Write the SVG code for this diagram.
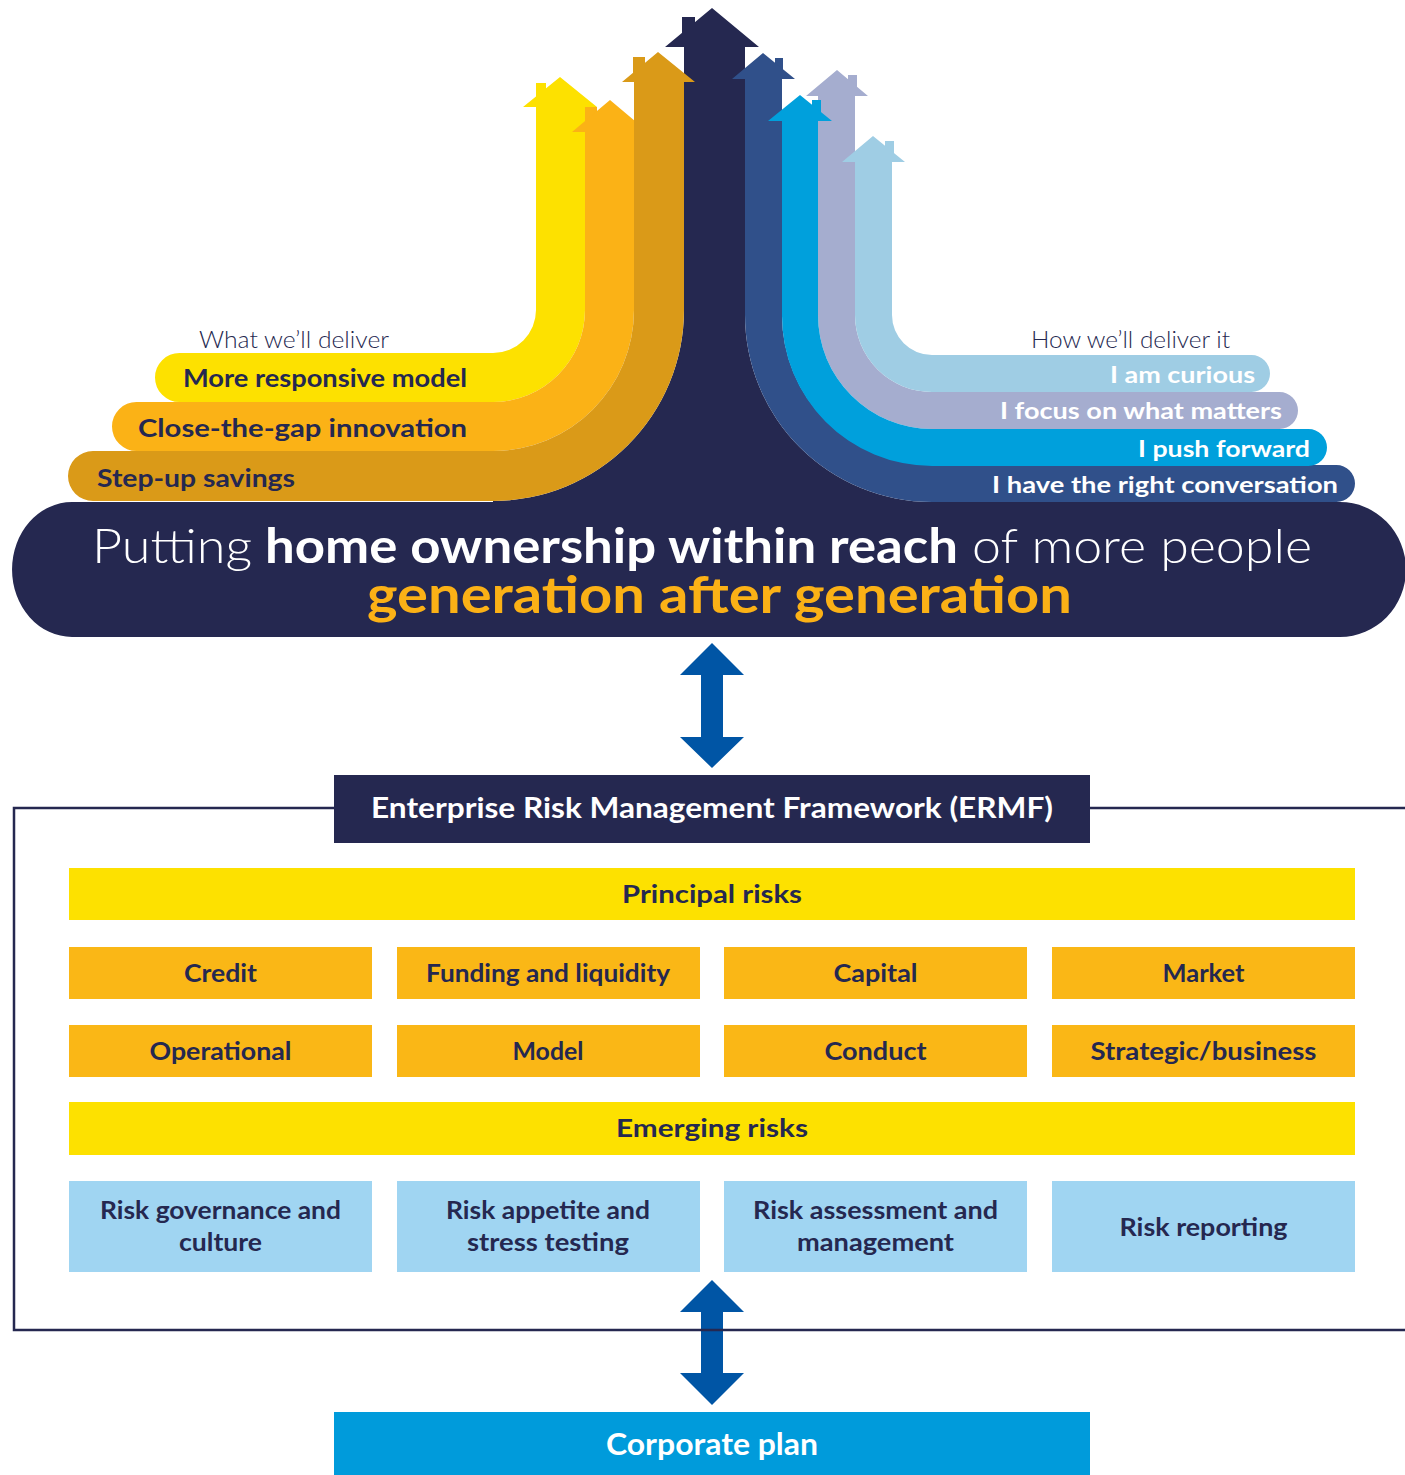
<svg xmlns="http://www.w3.org/2000/svg" width="1405" height="1475" viewBox="0 0 1405 1475">
<defs>
<style>
.t{font-family:Lato,"Open Sans","Liberation Sans",sans-serif}
.lt{font-family:Lato,"Open Sans","Liberation Sans",sans-serif;font-weight:300}
.b{font-family:Lato,"Open Sans","Liberation Sans",sans-serif;font-weight:700}
.navy{fill:#252850}
.wh{fill:#ffffff}
.lbl{font-family:Lato,"Open Sans","Liberation Sans",sans-serif;font-weight:700;fill:#252850;font-size:25px;text-anchor:middle}
.yb{fill:#FDE100}
.ob{fill:#FAB716}
.lb{fill:#A0D5F2}
.arr{fill:#0055A5}
</style>
</defs>
<rect width="1405" height="1475" fill="#ffffff"/>

<!-- central navy arrow -->
<g id="navy-arrow">
<path class="navy" d="M665,47 L712,8 L759,47 L745,47 L745,315 A187,187 0 0 0 932,502 L932,512 L493,512 L493,501 A191,191 0 0 0 684,310 L684,47 Z"/>
<rect class="navy" x="682" y="17" width="13" height="25"/>
</g>

<!-- left strips -->
<g id="strip-more-responsive-model">
<rect fill="#FDE100" x="536" y="83" width="10" height="20"/>
<path fill="#FDE100" d="M523,107 L560,77 L597,107 L585,107 L585,310 A92,92 0 0 1 493,402 L179.5,402 A24.5,24.5 0 0 1 179.5,353 L493,353 A43,43 0 0 0 536,310 L536,107 Z"/>
<text class="b navy" x="183" y="387" font-size="24" textLength="284" lengthAdjust="spacingAndGlyphs">More responsive model</text>
</g>
<g id="strip-close-the-gap">
<rect fill="#FBB216" x="585" y="107" width="12" height="20"/>
<path fill="#FBB216" d="M572,132 L610,100 L648,132 L634,132 L634,310 A141,141 0 0 1 493,451 L136.5,451 A24.5,24.5 0 0 1 136.5,402 L493,402 A92,92 0 0 0 585,310 L585,132 Z"/>
<text class="b navy" x="138" y="437" font-size="24" textLength="329" lengthAdjust="spacingAndGlyphs">Close-the-gap innovation</text>
</g>
<g id="strip-step-up-savings">
<rect fill="#DA9A18" x="633" y="57" width="12" height="20"/>
<path fill="#DA9A18" d="M622,82 L658,52 L695,82 L684,82 L684,310 A191,191 0 0 1 493,501 L93,501 A25,25 0 0 1 93,451 L493,451 A141,141 0 0 0 634,310 L634,82 Z"/>
<text class="b navy" x="97" y="487" font-size="24" textLength="198" lengthAdjust="spacingAndGlyphs">Step-up savings</text>
</g>

<!-- right strips -->
<g id="strip-focus">
<rect fill="#A5ADCF" x="848" y="75" width="9" height="18"/>
<path fill="#A5ADCF" d="M806,96 L837,70 L868,96 L855,96 L855,315 A77,77 0 0 0 932,392 L1279.5,392 A18.5,18.5 0 0 1 1279.5,429 L932,429 A114,114 0 0 1 818,315 L818,96 Z"/>
<text class="b wh" x="1000" y="419" font-size="23" textLength="282" lengthAdjust="spacingAndGlyphs">I focus on what matters</text>
</g>
<g id="strip-conversation">
<rect fill="#30508A" x="775" y="58" width="8" height="18"/>
<path fill="#30508A" d="M732,79 L763,53 L795,79 L782,79 L782,315 A150,150 0 0 0 932,465 L1336.5,465 A18.5,18.5 0 0 1 1336.5,502 L932,502 A187,187 0 0 1 745,315 L745,79 Z"/>
<text class="b wh" x="992" y="493" font-size="23" textLength="346" lengthAdjust="spacingAndGlyphs">I have the right conversation</text>
</g>
<g id="strip-push-forward">
<rect fill="#00A0DC" x="812" y="100" width="9" height="18"/>
<path fill="#00A0DC" d="M768,121 L800,95 L832,121 L818,121 L818,315 A114,114 0 0 0 932,429 L1308.5,429 A18.5,18.5 0 0 1 1308.5,466 L932,466 A150,150 0 0 1 782,315 L782,121 Z"/>
<text class="b wh" x="1138" y="457" font-size="23" textLength="172" lengthAdjust="spacingAndGlyphs">I push forward</text>
</g>
<g id="strip-curious">
<rect fill="#9FCDE4" x="885" y="141" width="9" height="18"/>
<path fill="#9FCDE4" d="M842,162 L873,136 L905,162 L892,162 L892,315 A40,40 0 0 0 932,355 L1251.5,355 A18.5,18.5 0 0 1 1251.5,392 L932,392 A77,77 0 0 1 855,315 L855,162 Z"/>
<text class="b wh" x="1110" y="383" font-size="23" textLength="145" lengthAdjust="spacingAndGlyphs">I am curious</text>
</g>

<g id="heading-left">
<text class="lt navy" x="199" y="348" font-size="24" textLength="190" lengthAdjust="spacingAndGlyphs">What we’ll deliver</text>
</g>
<g id="heading-right">
<text class="lt navy" x="1031" y="348" font-size="24" textLength="199" lengthAdjust="spacingAndGlyphs">How we’ll deliver it</text>
</g>

<!-- banner -->
<g id="banner">
<path class="navy" d="M72,502 L1340,502 A66,67.5 0 0 1 1340,637 L72,637 A60,67.5 0 0 1 72,502 Z"/>
<text class="lt wh" x="92" y="563" font-size="48" textLength="160" lengthAdjust="spacingAndGlyphs">Putting</text>
<text class="b wh" x="265" y="563" font-size="48" textLength="693" lengthAdjust="spacingAndGlyphs">home ownership within reach</text>
<text class="lt wh" x="972" y="563" font-size="48" textLength="340" lengthAdjust="spacingAndGlyphs">of more people</text>
<text class="b" fill="#FBB116" x="367" y="613" font-size="52" textLength="705" lengthAdjust="spacingAndGlyphs">generation after generation</text>
</g>

<!-- connectors -->
<g id="connectors">
<polygon class="arr" points="712,643 744,675 723,675 723,737 744,737 712,768 680,737 701,737 701,675 680,675"/>
<polygon class="arr" points="712,1280 744,1312 723,1312 723,1373 744,1373 712,1405 680,1373 701,1373 701,1312 680,1312"/>
</g>

<!-- ERMF frame -->
<g id="ermf-frame">
<path d="M334,808 L14,808 L14,1330 L1410,1330 M1090,808 L1410,808" fill="none" stroke="#252850" stroke-width="2.5"/>
</g>
<g id="ermf-title">
<rect class="navy" x="334" y="775" width="756" height="68"/>
<text class="b wh" x="712" y="818" font-size="28" text-anchor="middle" textLength="682" lengthAdjust="spacingAndGlyphs">Enterprise Risk Management Framework (ERMF)</text>
</g>

<g id="principal-risks">
<rect class="yb" x="69" y="868" width="1286" height="52"/>
<text class="lbl" x="712" y="903" font-size="26" textLength="180" lengthAdjust="spacingAndGlyphs">Principal risks</text>
</g>

<g id="credit"><rect class="ob" x="69" y="947" width="303" height="52"/><text class="lbl" x="220.5" y="982" textLength="73" lengthAdjust="spacingAndGlyphs">Credit</text></g>
<g id="funding"><rect class="ob" x="397" y="947" width="303" height="52"/><text class="lbl" x="548" y="982" textLength="244" lengthAdjust="spacingAndGlyphs">Funding and liquidity</text></g>
<g id="capital"><rect class="ob" x="724" y="947" width="303" height="52"/><text class="lbl" x="875.5" y="982" textLength="84" lengthAdjust="spacingAndGlyphs">Capital</text></g>
<g id="market"><rect class="ob" x="1052" y="947" width="303" height="52"/><text class="lbl" x="1203.5" y="982" textLength="82" lengthAdjust="spacingAndGlyphs">Market</text></g>

<g id="operational"><rect class="ob" x="69" y="1025" width="303" height="52"/><text class="lbl" x="220.5" y="1060" textLength="142" lengthAdjust="spacingAndGlyphs">Operational</text></g>
<g id="model"><rect class="ob" x="397" y="1025" width="303" height="52"/><text class="lbl" x="548" y="1060" textLength="71" lengthAdjust="spacingAndGlyphs">Model</text></g>
<g id="conduct"><rect class="ob" x="724" y="1025" width="303" height="52"/><text class="lbl" x="875.5" y="1060" textLength="102" lengthAdjust="spacingAndGlyphs">Conduct</text></g>
<g id="strategic"><rect class="ob" x="1052" y="1025" width="303" height="52"/><text class="lbl" x="1203.5" y="1060" textLength="226" lengthAdjust="spacingAndGlyphs">Strategic/business</text></g>

<g id="emerging-risks">
<rect class="yb" x="69" y="1102" width="1286" height="53"/>
<text class="lbl" x="712" y="1137" font-size="26" textLength="192" lengthAdjust="spacingAndGlyphs">Emerging risks</text>
</g>

<g id="risk-governance"><rect class="lb" x="69" y="1181" width="303" height="91"/>
<text class="lbl" x="220.5" y="1219" textLength="241" lengthAdjust="spacingAndGlyphs">Risk governance and</text>
<text class="lbl" x="220.5" y="1251" textLength="83" lengthAdjust="spacingAndGlyphs">culture</text></g>
<g id="risk-appetite"><rect class="lb" x="397" y="1181" width="303" height="91"/>
<text class="lbl" x="548" y="1219" textLength="204" lengthAdjust="spacingAndGlyphs">Risk appetite and</text>
<text class="lbl" x="548" y="1251" textLength="162" lengthAdjust="spacingAndGlyphs">stress testing</text></g>
<g id="risk-assessment"><rect class="lb" x="724" y="1181" width="303" height="91"/>
<text class="lbl" x="875.5" y="1219" textLength="245" lengthAdjust="spacingAndGlyphs">Risk assessment and</text>
<text class="lbl" x="875.5" y="1251" textLength="157" lengthAdjust="spacingAndGlyphs">management</text></g>
<g id="risk-reporting"><rect class="lb" x="1052" y="1181" width="303" height="91"/>
<text class="lbl" x="1203.5" y="1236" textLength="168" lengthAdjust="spacingAndGlyphs">Risk reporting</text></g>

<g id="corporate-plan">
<rect fill="#009BDB" x="334" y="1412" width="756" height="63"/>
<text class="b wh" x="712" y="1455" font-size="30" text-anchor="middle" textLength="212" lengthAdjust="spacingAndGlyphs">Corporate plan</text>
</g>
</svg>
